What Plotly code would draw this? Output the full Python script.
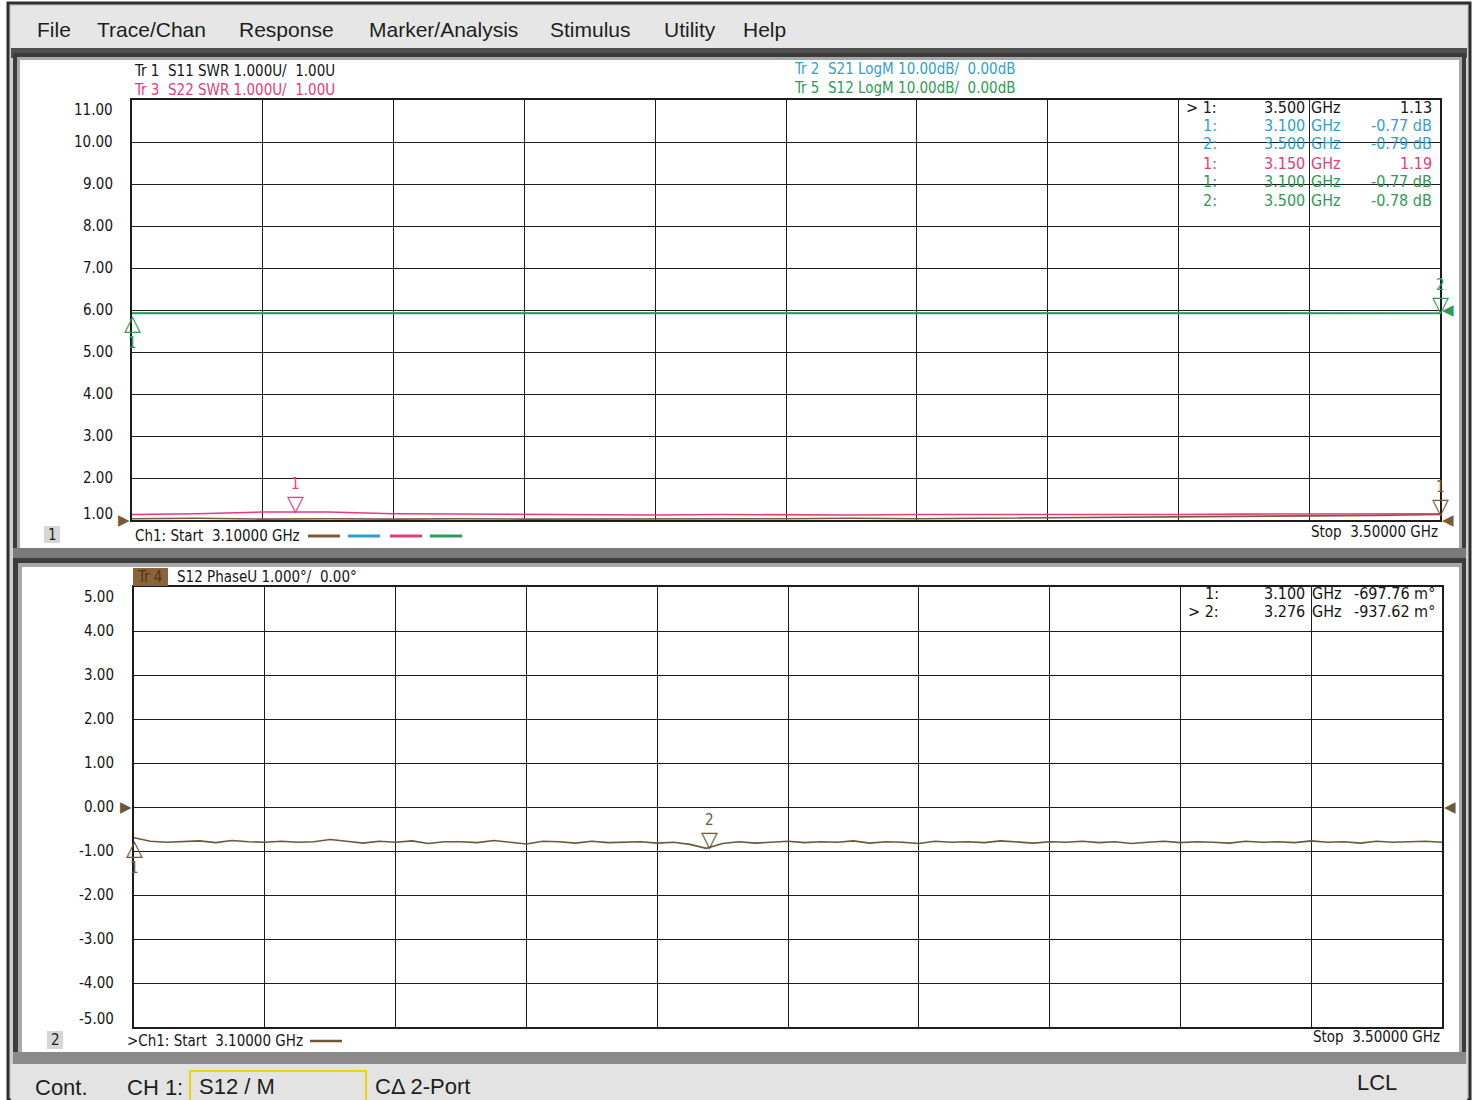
import numpy as np
import plotly.graph_objects as go

W, H = 1477, 1100

# ---------------- data ----------------
freq_start, freq_stop = 3.10, 3.50
n_top, n_bot = 21, 81
freq_top = np.linspace(freq_start, freq_stop, n_top)
freq_bot = np.linspace(freq_start, freq_stop, n_bot)

s11_swr = [1.03, 1.04, 1.02, 1.03, 1.02, 1.03, 1.02, 1.02, 1.03, 1.02, 1.03,
           1.04, 1.03, 1.04, 1.05, 1.06, 1.07, 1.08, 1.10, 1.11, 1.13]
s22_swr = [1.13, 1.15, 1.19, 1.19, 1.15, 1.14, 1.13, 1.12, 1.12, 1.13, 1.12,
           1.12, 1.13, 1.13, 1.12, 1.12, 1.13, 1.14, 1.14, 1.15, 1.15]
s21_db = [-0.77, -0.77, -0.78, -0.77, -0.78, -0.78, -0.77, -0.78, -0.78, -0.78, -0.78,
          -0.78, -0.79, -0.78, -0.78, -0.79, -0.78, -0.79, -0.79, -0.79, -0.79]
s12_db = [-0.77, -0.77, -0.77, -0.78, -0.77, -0.78, -0.77, -0.77, -0.78, -0.78, -0.77,
          -0.78, -0.78, -0.78, -0.77, -0.78, -0.78, -0.78, -0.78, -0.78, -0.78]
s12_phase = [-0.70, -0.78, -0.80, -0.79, -0.77, -0.81, -0.76, -0.79, -0.80, -0.78,
             -0.80, -0.79, -0.74, -0.78, -0.82, -0.78, -0.80, -0.77, -0.83, -0.79,
             -0.79, -0.81, -0.76, -0.80, -0.84, -0.78, -0.79, -0.82, -0.78, -0.81,
             -0.80, -0.79, -0.82, -0.80, -0.85, -0.94, -0.83, -0.79, -0.82, -0.80,
             -0.78, -0.81, -0.79, -0.80, -0.77, -0.82, -0.79, -0.80, -0.83, -0.78,
             -0.80, -0.79, -0.81, -0.77, -0.80, -0.82, -0.79, -0.80, -0.78, -0.81,
             -0.79, -0.83, -0.80, -0.78, -0.81, -0.79, -0.80, -0.82, -0.78, -0.80,
             -0.79, -0.81, -0.77, -0.80, -0.79, -0.82, -0.78, -0.80, -0.79, -0.78, -0.80]

top_ticks = [11, 10, 9, 8, 7, 6, 5, 4, 3, 2, 1]
bot_ticks = [5, 4, 3, 2, 1, 0, -1, -2, -3, -4, -5]

# marker readouts (top channel window)
top_mk_label = ["> 1:", "1:", "2:", "1:", "1:", "2:"]
top_mk_freq = [3.500, 3.100, 3.500, 3.150, 3.100, 3.500]
top_mk_val = ["1.13", "-0.77 dB", "-0.79 dB", "1.19", "-0.77 dB", "-0.78 dB"]
top_mk_trace = ["tr1", "tr2", "tr2", "tr3", "tr5", "tr5"]
bot_mk_label = ["1:", "> 2:"]
bot_mk_freq = [3.100, 3.276]
bot_mk_val = [-0.69776, -0.93762]

# ---------------- style ----------------
C = {"tr1": "#7b5a35", "tr2": "#2f9fcc", "tr3": "#e33d7c", "tr5": "#2f9a56", "tr4": "#6b5838"}
TXT = {"tr1": "#151515", "tr2": "#2f9fcc", "tr3": "#e33d7c", "tr5": "#2f9a56"}
NARROW = "Liberation Sans Narrow, Arial Narrow, DejaVu Sans Condensed, Roboto Condensed, sans-serif"
SANS = "Liberation Sans, Arial, sans-serif"
GRID = "#1c1c1c"
NB = "\u00a0"


def px(x):
    return x / W


def py(y):
    return 1 - y / H


fig = go.Figure()

# traces, top window
fig.add_trace(go.Scatter(x=freq_top, y=s11_swr, mode="lines", line=dict(color=C["tr1"], width=1.6),
                         xaxis="x", yaxis="y", hoverinfo="skip"))
fig.add_trace(go.Scatter(x=freq_top, y=s22_swr, mode="lines", line=dict(color=C["tr3"], width=1.6),
                         xaxis="x", yaxis="y", hoverinfo="skip"))
fig.add_trace(go.Scatter(x=freq_top, y=s21_db, mode="lines", line=dict(color=C["tr2"], width=1.6),
                         xaxis="x", yaxis="y3", hoverinfo="skip"))
fig.add_trace(go.Scatter(x=freq_top, y=s12_db, mode="lines", line=dict(color=C["tr5"], width=1.8),
                         xaxis="x", yaxis="y3", hoverinfo="skip"))
# bottom window
fig.add_trace(go.Scatter(x=freq_bot, y=s12_phase, mode="lines", line=dict(color=C["tr4"], width=1.6),
                         xaxis="x2", yaxis="y2", hoverinfo="skip"))

ax_common = dict(showgrid=True, gridcolor=GRID, gridwidth=1.4, zeroline=False, showline=True,
                 mirror=True, linecolor=GRID, linewidth=1.6, ticks="", showticklabels=False,
                 fixedrange=True)

fig.update_layout(
    width=W, height=H, margin=dict(l=0, r=0, t=0, b=0),
    paper_bgcolor="#ffffff", plot_bgcolor="#ffffff", showlegend=False,
    xaxis=dict(domain=[px(132), px(1440)], range=[freq_start, freq_stop], tick0=freq_start,
               dtick=(freq_stop - freq_start) / 10, anchor="y", **ax_common),
    yaxis=dict(domain=[py(520), py(100)], range=[1, 11], dtick=1, anchor="x", **ax_common),
    yaxis3=dict(overlaying="y", range=[-50, 50], visible=False, anchor="x", fixedrange=True),
    xaxis2=dict(domain=[px(134), px(1442)], range=[freq_start, freq_stop], tick0=freq_start,
                dtick=(freq_stop - freq_start) / 10, anchor="y2", **ax_common),
    yaxis2=dict(domain=[py(1027), py(587)], range=[-5, 5], dtick=1, anchor="x2", **ax_common),
)

shapes = []


def rect(x0, y0, x1, y1, fill, line=None, lw=0, layer="below"):
    shapes.append(dict(type="rect", xref="paper", yref="paper", x0=px(x0), x1=px(x1),
                       y0=py(y1), y1=py(y0), fillcolor=fill, layer=layer,
                       line=dict(color=line or fill, width=lw)))


def hline(x0, x1, y, color, lw):
    shapes.append(dict(type="line", xref="paper", yref="paper", x0=px(x0), x1=px(x1),
                       y0=py(y), y1=py(y), line=dict(color=color, width=lw), layer="above"))


# window chrome
rect(8, 3, 1470, 1100, "#cfcfcf", "#2e2e2e", 3)
rect(11, 6, 1467, 48, "#e6e6e6")
rect(11, 48, 1467, 58, "#505050")
# panel 1
rect(13, 53, 1466, 560, "#3c3c3c")
rect(17, 57, 1462, 556, "#a8a8a8")
rect(20, 60, 1459, 548, "#ffffff")
rect(13, 548, 1466, 562, "#7a7a7a")
# panel 2
rect(13, 558, 1466, 1062, "#3c3c3c")
rect(18, 563, 1462, 1058, "#a8a8a8")
rect(22, 567, 1459, 1052, "#ffffff")
rect(13, 1052, 1466, 1064, "#8a8a8a")
# status bar
rect(11, 1064, 1467, 1100, "#e3e3e3")
rect(190, 1071, 366, 1101, "#e3e3e3", "#f2d400", 2)
# channel number boxes
rect(44, 526, 60, 543, "#d6d6d6")
rect(47, 1031, 63, 1049, "#d6d6d6")
# Tr4 box
rect(133, 568, 168, 586, "#8a6438", layer="above")

# legend dashes in channel 1 footer
for (x0, x1), key in zip([(308, 340), (348, 380), (390, 422), (430, 462)], ["tr1", "tr2", "tr3", "tr5"]):
    hline(x0, x1, 536, C[key], 3)
hline(310, 342, 1041, C["tr4"], 2.5)

fig.update_layout(shapes=shapes)

ann = []


def text(x, y, s, size=15, color="#151515", anchor="left", family=NARROW, yanchor="middle"):
    ann.append(dict(xref="paper", yref="paper", x=px(x), y=py(y), text=s, showarrow=False,
                    xanchor=anchor, yanchor=yanchor, font=dict(family=family, size=size, color=color)))


# menu bar
for label, x in zip(["File", "Trace/Chan", "Response", "Marker/Analysis", "Stimulus", "Utility", "Help"],
                    [35, 95, 237, 367, 548, 662, 741]):
    text(x, 29, label, size=21, color="#1e1e1e", family=SANS)

# trace headers
text(132, 71, f"Tr 1{NB}{NB}S11 SWR 1.000U/{NB}{NB}1.00U", 15, TXT["tr1"])
text(132, 90, f"Tr 3{NB}{NB}S22 SWR 1.000U/{NB}{NB}1.00U", 15, TXT["tr3"])
text(792, 69, f"Tr 2{NB}{NB}S21 LogM 10.00dB/{NB}{NB}0.00dB", 15, TXT["tr2"])
text(792, 88, f"Tr 5{NB}{NB}S12 LogM 10.00dB/{NB}{NB}0.00dB", 15, TXT["tr5"])
text(135, 577, "Tr 4", 15, "#4a3418")
text(175, 577, f"S12 PhaseU 1.000°/{NB}{NB}0.00°", 15, "#151515")

# footers
text(52, 535, "1", 15, "#202020", "center")
text(133, 536, f"Ch1: Start{NB}{NB}3.10000 GHz", 15)
text(1440, 532, f"Stop{NB}{NB}3.50000 GHz", 15, anchor="right")
text(55, 1040, "2", 15, "#202020", "center")
text(125, 1041, f">Ch1: Start{NB}{NB}3.10000 GHz", 15)
text(1442, 1037, f"Stop{NB}{NB}3.50000 GHz", 15, anchor="right")

# status bar
text(33, 1087, "Cont.", 22, "#1e1e1e", family=SANS)
text(125, 1087, "CH 1:", 22, "#1e1e1e", family=SANS)
text(197, 1086, "S12 / M", 22, "#1e1e1e", family=SANS)
text(373, 1086, "CΔ 2-Port", 22, "#1e1e1e", family=SANS)
text(1355, 1082, "LCL", 22, "#1e1e1e", family=SANS)

# y tick labels (through axis scales)
for v in top_ticks:
    shift = -10 if v == top_ticks[0] else (6 if v == top_ticks[-1] else 0)
    ann.append(dict(xref="paper", yref="y", x=px(115), y=v, text=f"{v:.2f}", showarrow=False,
                    xanchor="right", yanchor="middle", yshift=shift,
                    font=dict(family=NARROW, size=15, color="#151515")))
for v in bot_ticks:
    shift = -10 if v == bot_ticks[0] else (8 if v == bot_ticks[-1] else 0)
    ann.append(dict(xref="paper", yref="y2", x=px(116), y=v, text=f"{v:.2f}", showarrow=False,
                    xanchor="right", yanchor="middle", yshift=shift,
                    font=dict(family=NARROW, size=15, color="#151515")))

# marker readout tables
rows_y = [107, 126, 144, 163, 181, 200]
for lab, f, val, key, y in zip(top_mk_label, top_mk_freq, top_mk_val, top_mk_trace, rows_y):
    col = TXT[key]
    text(1219, y, lab, 16, col, "right")
    text(1307, y, f"{f:.3f}", 16, col, "right")
    text(1309, y, "GHz", 16, col)
    text(1434, y, val, 16, col, "right")
for lab, f, val, y in zip(bot_mk_label, bot_mk_freq, bot_mk_val, [593, 611]):
    text(1221, y, lab, 16, "#151515", "right")
    text(1307, y, f"{f:.3f}", 16, "#151515", "right")
    text(1310, y, "GHz", 16, "#151515")
    text(1437, y, f"{val * 1000:.2f} m°", 16, "#151515", "right")


def marker(xa, ya, x, y, direction, color, label):
    if direction == "down":
        ann.append(dict(xref=xa, yref=ya, x=x, y=y, text="▽", showarrow=False, xanchor="center",
                        yanchor="bottom", yshift=-6, font=dict(family="DejaVu Sans", size=22, color=color)))
        ann.append(dict(xref=xa, yref=ya, x=x, y=y, text=label, showarrow=False, xanchor="center",
                        yanchor="bottom", yshift=17, font=dict(family=NARROW, size=15, color=color)))
    else:
        ann.append(dict(xref=xa, yref=ya, x=x, y=y, text="△", showarrow=False, xanchor="center",
                        yanchor="top", yshift=5, font=dict(family="DejaVu Sans", size=22, color=color)))
        ann.append(dict(xref=xa, yref=ya, x=x, y=y, text=label, showarrow=False, xanchor="center",
                        yanchor="top", yshift=-19, font=dict(family=NARROW, size=15, color=color)))


marker("x", "y", 3.150, 1.19, "down", C["tr3"], "1")
marker("x", "y", 3.500, 1.13, "down", C["tr1"], "1")
marker("x", "y3", 3.100, -0.77, "up", C["tr5"], "1")
marker("x", "y3", 3.500, -0.78, "down", C["tr5"], "2")
marker("x2", "y2", bot_mk_freq[0], bot_mk_val[0], "up", C["tr4"], "1")
marker("x2", "y2", bot_mk_freq[1], bot_mk_val[1], "down", C["tr4"], "2")


# reference-level arrows
def ref_arrow(xa, ya, x, y, side, color):
    ann.append(dict(xref=xa, yref=ya, x=x, y=y, text="▶" if side == "left" else "◀", showarrow=False,
                    xanchor="right" if side == "left" else "left", yanchor="middle",
                    font=dict(family="DejaVu Sans", size=15, color=color)))


ref_arrow("x", "y", freq_start, 1, "left", C["tr1"])
ref_arrow("x", "y", freq_stop, 1, "right", C["tr1"])
ref_arrow("x", "y3", freq_stop, 0, "right", C["tr5"])
ref_arrow("x2", "y2", freq_start, 0, "left", C["tr4"])
ref_arrow("x2", "y2", freq_stop, 0, "right", C["tr4"])

fig.update_layout(annotations=ann)

fig.write_html("out.html", config={"displayModeBar": False},
               post_script="document.body.style.margin='0';document.body.style.overflow='hidden';")
